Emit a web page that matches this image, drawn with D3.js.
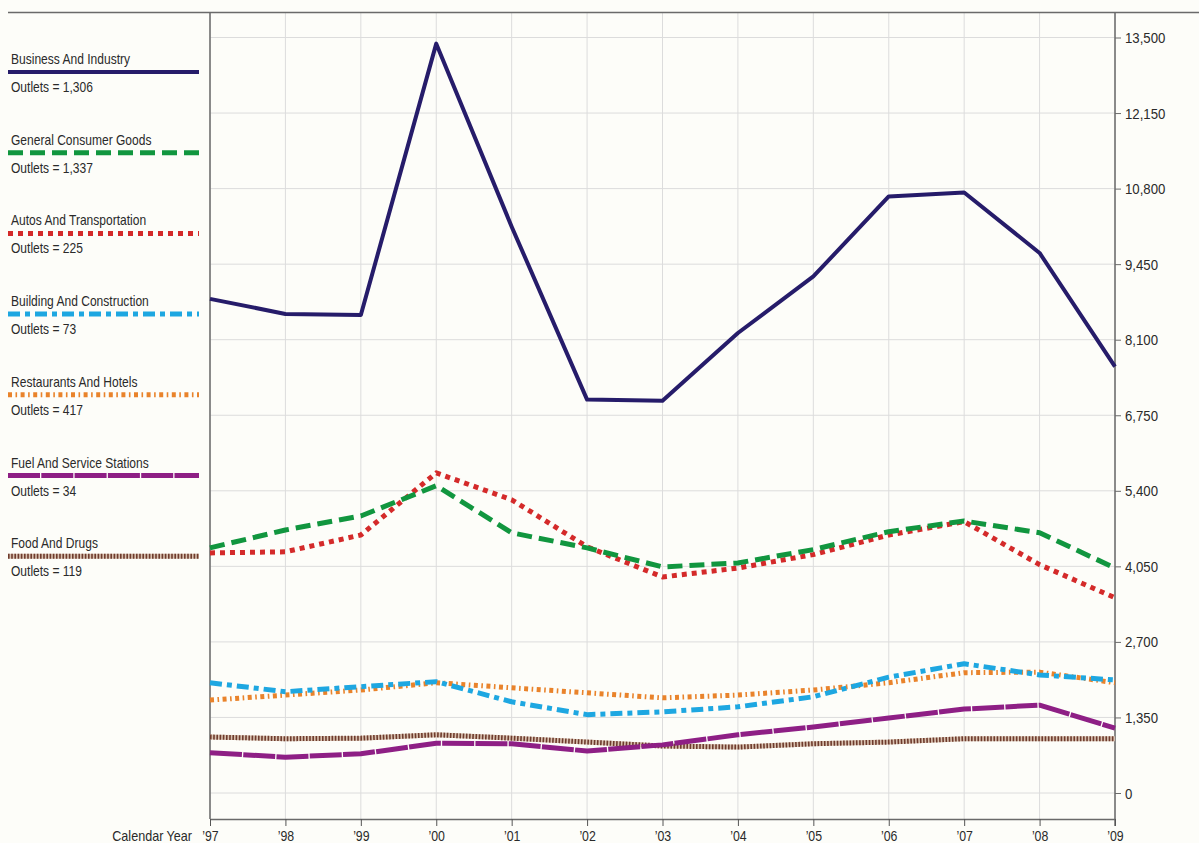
<!DOCTYPE html>
<html>
<head>
<meta charset="utf-8">
<script src="https://cdn.jsdelivr.net/npm/d3@7"></script>
<style>
  html, body { margin: 0; padding: 0; background: #fdfdf9; }
  svg { display: block; }
  text { font-family: "Liberation Sans", Arial, sans-serif; fill: #2a2a2a; }
</style>
</head>
<body>
<svg id="chart" width="1199" height="843"></svg>
<script>
// ---- data ----
const years = ["\u201997","\u201998","\u201999","\u201900","\u201901","\u201902","\u201903","\u201904","\u201905","\u201906","\u201907","\u201908","\u201909"];
const categories = ["Business And Industry","General Consumer Goods","Autos And Transportation","Building And Construction","Restaurants And Hotels","Fuel And Service Stations","Food And Drugs"];
const outlets = ["1,306","1,337","225","73","417","34","119"];
const businessAndIndustry = [8830, 8560, 8540, 13390, 10120, 7030, 7010, 8220, 9230, 10660, 10730, 9650, 7620];
const generalConsumerGoods = [4380, 4700, 4950, 5490, 4650, 4380, 4040, 4110, 4350, 4670, 4860, 4650, 4020];
const autosAndTransportation = [4290, 4310, 4610, 5720, 5240, 4400, 3860, 4020, 4260, 4610, 4850, 4080, 3490];
const buildingAndConstruction = [1970, 1810, 1900, 1990, 1630, 1400, 1450, 1540, 1720, 2070, 2310, 2110, 2020];
const restaurantsAndHotels = [1660, 1750, 1840, 1970, 1880, 1790, 1700, 1750, 1840, 1970, 2150, 2160, 1970];
const fuelAndServiceStations = [720, 640, 700, 890, 880, 750, 860, 1040, 1180, 1340, 1500, 1570, 1160];
const foodAndDrugs = [1000, 970, 980, 1040, 980, 910, 840, 820, 880, 910, 970, 970, 970];
const yTicks = [0, 1350, 2700, 4050, 5400, 6750, 8100, 9450, 10800, 12150, 13500];

// ---- styles ----
const styles = [
  {color:"#261c6a", width:4, dash:null},
  {color:"#11963f", width:5, dash:"15,7"},
  {color:"#d42a2a", width:5, dash:"5,5"},
  {color:"#1ea7e1", width:5, dash:"12,5,5,5"},
  {color:"#e9832b", width:5, dash:"4,3.5,1.6,3.5"},
  {color:"#8e1f85", width:5, dash:"32,1.3"},
  {color:"#6e3b2d", width:5, dash:"1.6,1.6", under:"#d9c2b0"}
];
const seriesData = [businessAndIndustry, generalConsumerGoods, autosAndTransportation, buildingAndConstruction, restaurantsAndHotels, fuelAndServiceStations, foodAndDrugs];

const svg = d3.select("#chart");
const W = 1199, H = 843;
const pLeft = 210, pRight = 1115, pTop = 12.5, pBottom = 819;

svg.append("rect").attr("width", W).attr("height", H).attr("fill", "#fdfdf9");

const x = d3.scalePoint().domain(years).range([pLeft, pRight]);
const y = d3.scaleLinear().domain([0, 13500]).range([793, 37.5]);

function label(g, tx, ty, str, size, sx, anchor) {
  return g.append("text")
    .attr("transform", `translate(${tx},${ty}) scale(${sx},1)`)
    .attr("font-size", size)
    .attr("text-anchor", anchor || "start")
    .text(str);
}

// gridlines
const grid = svg.append("g");
grid.selectAll("line.v").data(years).join("line").attr("class", "v")
  .attr("x1", d => x(d)).attr("x2", d => x(d))
  .attr("y1", pTop).attr("y2", pBottom)
  .attr("stroke", "#dcdcdc").attr("stroke-width", 1);
grid.selectAll("line.h").data(yTicks).join("line").attr("class", "h")
  .attr("x1", pLeft).attr("x2", pRight)
  .attr("y1", d => y(d)).attr("y2", d => y(d))
  .attr("stroke", "#dcdcdc").attr("stroke-width", 1);

// frame lines
svg.append("line").attr("x1", 8).attr("x2", W).attr("y1", pTop).attr("y2", pTop)
  .attr("stroke", "#6a6a6a").attr("stroke-width", 1.5);
svg.append("line").attr("x1", pLeft).attr("x2", pLeft).attr("y1", pTop).attr("y2", pBottom)
  .attr("stroke", "#6a6a6a").attr("stroke-width", 1.5);

// right axis
const yAxis = d3.axisRight(y).tickValues(yTicks).tickSize(6).tickFormat(d3.format(","));
const ya = svg.append("g").attr("transform", `translate(${pRight},0)`).call(yAxis);
ya.select(".domain").remove();
ya.selectAll(".tick line").attr("stroke", "#6a6a6a");
ya.selectAll(".tick text").remove();
ya.selectAll(".tick").each(function(d) {
  label(d3.select(this), 10, 5, d3.format(",")(d), 15, 0.88, "start");
});
svg.append("line").attr("x1", pRight).attr("x2", pRight).attr("y1", pTop).attr("y2", pBottom + 7)
  .attr("stroke", "#6a6a6a").attr("stroke-width", 1.5);

// bottom axis
const xAxis = d3.axisBottom(x).tickSize(7).tickSizeOuter(0);
const xa = svg.append("g").attr("transform", `translate(0,${pBottom})`).call(xAxis);
xa.select(".domain").attr("stroke", "#6a6a6a").attr("stroke-width", 1.5);
xa.selectAll(".tick line").attr("stroke", "#555");
xa.selectAll(".tick text").remove();
xa.selectAll(".tick").each(function(d) {
  label(d3.select(this), 0, 22, d, 14, 0.88, "middle");
});
label(svg, 192, 841, "Calendar Year", 14, 0.9, "end");

// series lines (draw bottom-legend entries first)
const lineGen = d3.line().x((d, i) => x(years[i])).y(d => y(d)).curve(d3.curveLinear);
const order = [6, 5, 4, 3, 2, 1, 0];
order.forEach(k => {
  const s = styles[k];
  if (s.under) {
    svg.append("path").datum(seriesData[k]).attr("d", lineGen)
      .attr("fill", "none").attr("stroke", s.under).attr("stroke-width", s.width);
  }
  svg.append("path").datum(seriesData[k]).attr("d", lineGen)
    .attr("fill", "none").attr("stroke", s.color).attr("stroke-width", s.width)
    .attr("stroke-dasharray", s.dash).attr("stroke-linejoin", "round");
});

// legend
const lg = svg.append("g");
categories.forEach((c, i) => {
  const ly = 72 + i * 80.7;
  const s = styles[i];
  label(lg, 11, ly - 8, c, 14, 0.86, "start");
  if (s.under) {
    lg.append("line").attr("x1", 8).attr("x2", 199).attr("y1", ly).attr("y2", ly)
      .attr("stroke", s.under).attr("stroke-width", s.width);
  }
  lg.append("line").attr("x1", 8).attr("x2", 199).attr("y1", ly).attr("y2", ly)
    .attr("stroke", s.color).attr("stroke-width", s.width)
    .attr("stroke-dasharray", s.dash);
  label(lg, 11, ly + 20, "Outlets = " + outlets[i], 14, 0.86, "start");
});
</script>
</body>
</html>
